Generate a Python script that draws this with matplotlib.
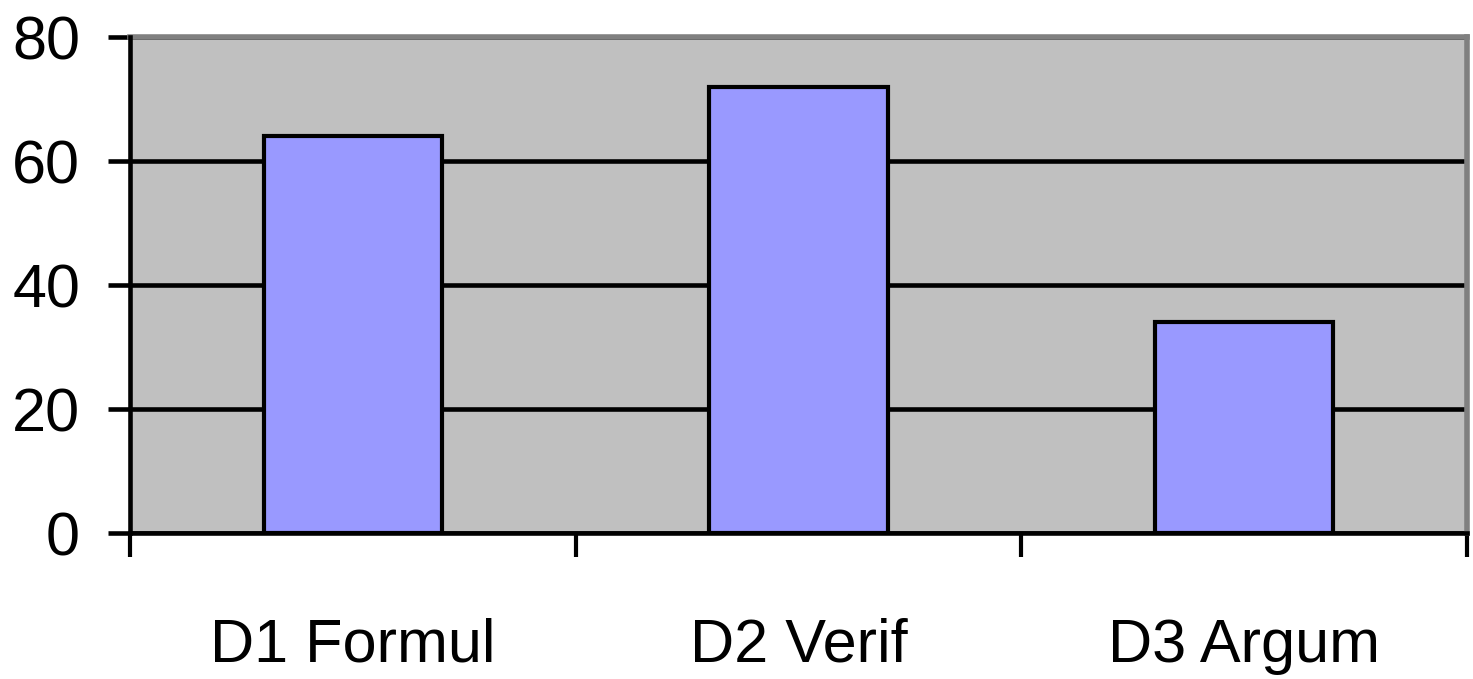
import matplotlib.pyplot as plt

categories = ["D1 Formul", "D2 Verif", "D3 Argum"]
values = [64, 72, 34]
yticks = [0, 20, 40, 60, 80]

plt.rcParams['font.family'] = ['Liberation Sans', 'DejaVu Sans']

fig = plt.figure(figsize=(14.73, 6.79), dpi=100)
ax = fig.add_axes([0.0883, 0.215, 0.9076, 0.7305])
ax.set_facecolor('#C0C0C0')

x = list(range(len(categories)))
ax.bar(x, values, width=0.4, color='#9999FF', edgecolor='black', linewidth=3, zorder=3)

ax.set_xlim(-0.5, len(categories) - 0.5)
ax.set_ylim(0, 80)
ax.set_yticks(yticks)
ax.yaxis.grid(True, color='black', linewidth=3.3, zorder=1)
ax.set_axisbelow(True)

# category boundaries get the tick marks, labels sit in between
ax.set_xticks([i - 0.5 for i in range(len(categories) + 1)])
ax.set_xticklabels([])
ax.set_xticks(x, minor=True)
ax.set_xticklabels(categories, minor=True)
ax.tick_params(axis='x', which='major', length=17, width=3, direction='out')
ax.tick_params(axis='x', which='minor', length=0, pad=61, labelsize=44)
ax.tick_params(axis='y', length=16, width=3.3, pad=20, labelsize=44)

for side in ['left', 'bottom']:
    ax.spines[side].set_color('black')
    ax.spines[side].set_linewidth(3.3)
    ax.spines[side].set_zorder(4)
for side in ['top', 'right']:
    ax.spines[side].set_color('#808080')
    ax.spines[side].set_linewidth(4)

fig.savefig('out.png', dpi=100)
